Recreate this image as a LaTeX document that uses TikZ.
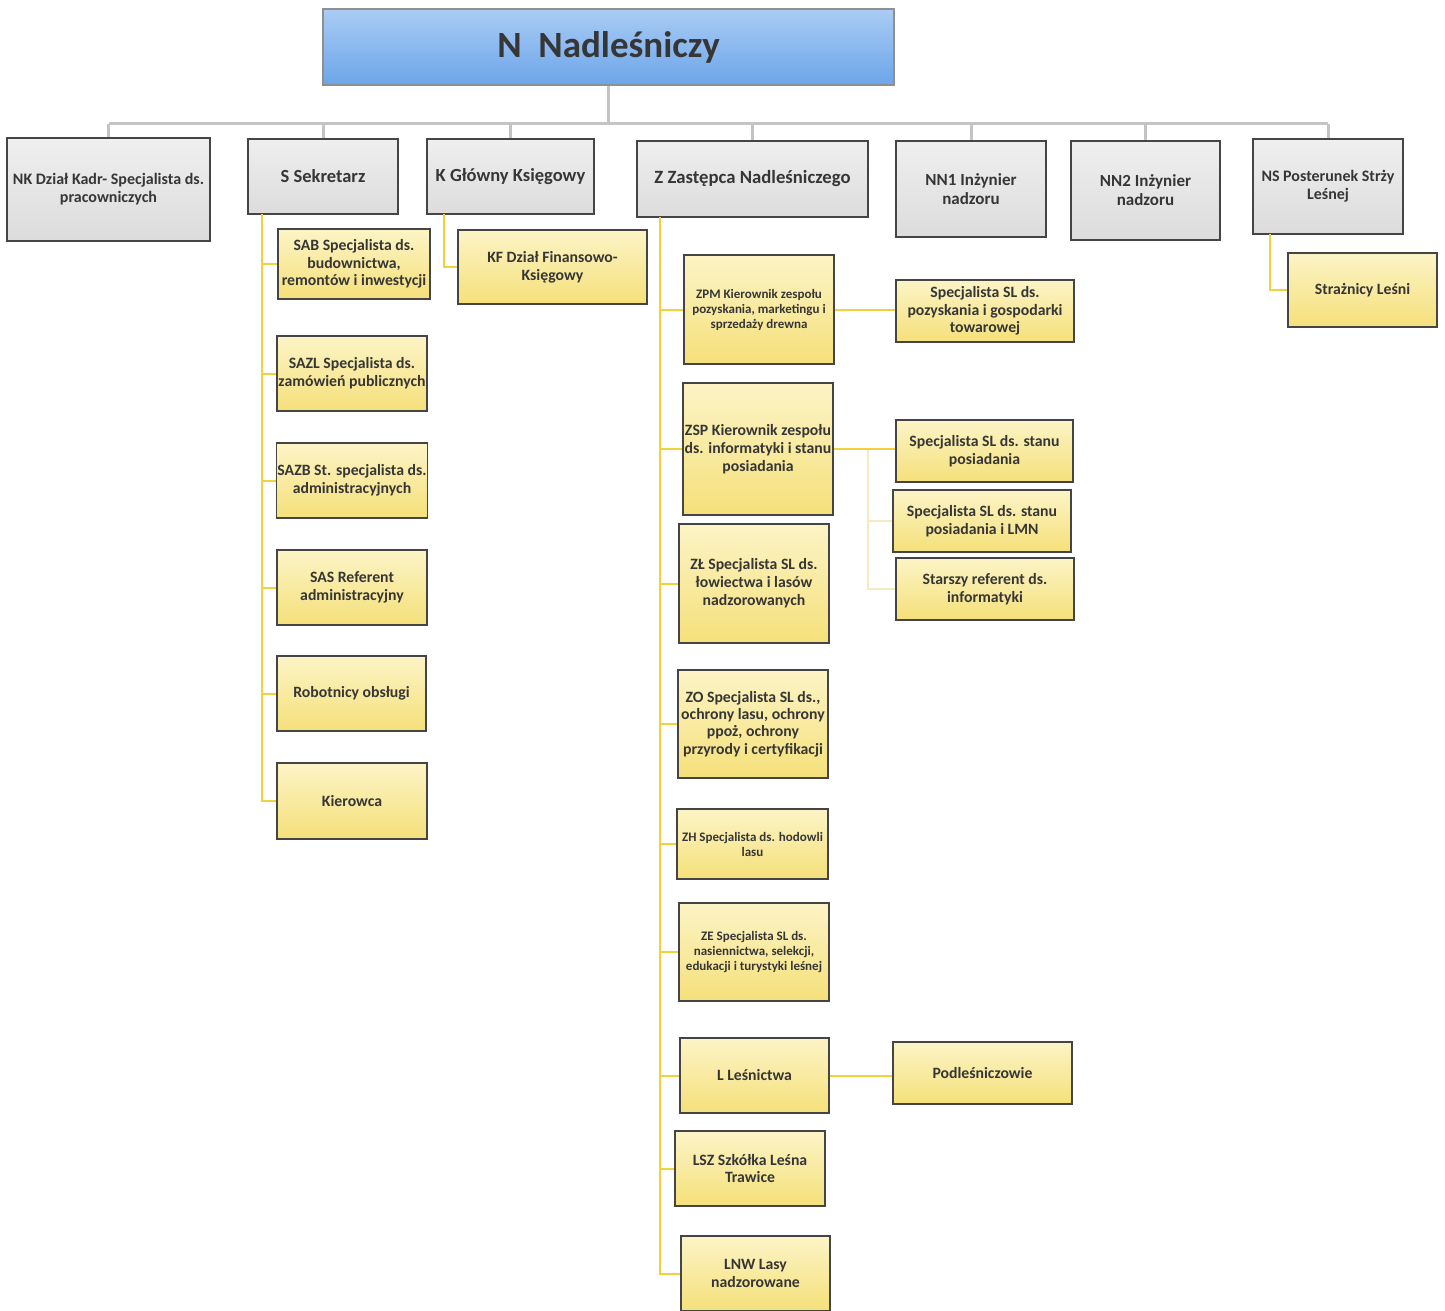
\documentclass[tikz,border=0pt]{standalone}
\usepackage{fontspec}
\setmainfont{Carlito}
\definecolor{boxline}{HTML}{454545}
\definecolor{txt}{HTML}{363636}
\definecolor{gtop}{HTML}{EFEFEF}
\definecolor{gbot}{HTML}{DCDCDC}
\definecolor{ytop}{HTML}{FCF4C6}
\definecolor{ybot}{HTML}{F5E07A}
\definecolor{btop}{HTML}{AACCF4}
\definecolor{bbot}{HTML}{6CA5EA}
\definecolor{busc}{HTML}{C4C4C4}
\definecolor{ylc}{HTML}{F2D23C}
\definecolor{ylpale}{HTML}{F4ECC0}
\newcommand\orgbox[7]{\node[#2, minimum width={#5pt-#3pt}, minimum height={#6pt-#4pt}] (#1) at ({(#3+#5)/2},{(#4+#6)/2}) {#7};}
\tikzset{
  fs/.style 2 args={font=\bfseries\fontsize{#1}{#2}\selectfont},
  base/.style={draw=boxline, line width=1.3pt, inner sep=1pt, align=center, text=txt, fs={15.75}{17.8}},
  gbox/.style={base, top color=gtop, bottom color=gbot},
  ybox/.style={base, top color=ytop, bottom color=ybot},
  bbox/.style={base, draw=boxline!60, top color=btop, bottom color=bbot},
  bus/.style={draw=busc, line width=3pt},
  yl/.style={draw=ylc, line width=2pt},
  ylp/.style={draw=ylpale, line width=1.5pt},
}
\begin{document}
\begin{tikzpicture}[x=1pt,y=-1pt]
\useasboundingbox (0,0) rectangle (1445,1311);
% top
\orgbox{n}{bbox, fs={37}{42}}{323}{9}{894}{85}{N\ \ Nadleśniczy}
% level 2
\orgbox{nk}{gbox, fs={16}{18}}{7}{138}{210}{241}{NK Dział Kadr- Specjalista ds.\\pracowniczych}
\orgbox{s}{gbox, fs={18.5}{21}}{248}{139}{398}{214}{S Sekretarz}
\orgbox{k}{gbox, fs={18.5}{21}}{427}{139}{594}{214}{K Główny Księgowy}
\orgbox{z}{gbox, fs={18.7}{21}}{637}{141}{868}{217}{Z Zastępca Nadleśniczego}
\orgbox{nn1}{gbox, fs={17}{19}}{896}{141}{1046}{237}{NN1 Inżynier\\nadzoru}
\orgbox{nn2}{gbox, fs={17}{19}}{1071}{141}{1220}{240}{NN2 Inżynier\\nadzoru}
\orgbox{ns}{gbox, fs={16}{18}}{1253}{139}{1403}{234}{NS Posterunek Strży\\Leśnej}
% S children
\orgbox{sab}{ybox}{278}{229}{430}{299}{SAB Specjalista ds.\\budownictwa,\\remontów i inwestycji}
\orgbox{sazl}{ybox}{277}{336}{427}{411}{SAZL Specjalista ds.\\zamówień publicznych}
\orgbox{sazb}{ybox}{277}{443}{427}{518}{SAZB St. specjalista ds.\\administracyjnych}
\orgbox{sas}{ybox}{277}{550}{427}{625}{SAS Referent\\administracyjny}
\orgbox{rob}{ybox}{277}{656}{426}{731}{Robotnicy obsługi}
\orgbox{kie}{ybox}{277}{763}{427}{839}{Kierowca}
% K child
\orgbox{kf}{ybox}{458}{230}{647}{304}{KF Dział Finansowo-\\Księgowy}
% Z children
\orgbox{zpm}{ybox, fs={13}{15}}{684}{255}{834}{364}{ZPM Kierownik zespołu\\pozyskania, marketingu i\\sprzedaży drewna}
\orgbox{zpm1}{ybox}{896}{280}{1074}{342}{Specjalista SL ds.\\pozyskania i gospodarki\\towarowej}
\orgbox{zsp}{ybox}{683}{383}{833}{515}{ZSP Kierownik zespołu\\ds. informatyki i stanu\\posiadania}
\orgbox{zsp1}{ybox}{896}{420}{1073}{482}{Specjalista SL ds. stanu\\posiadania}
\orgbox{zsp2}{ybox}{893}{490}{1071}{552}{Specjalista SL ds. stanu\\posiadania i LMN}
\orgbox{zsp3}{ybox}{896}{558}{1074}{620}{Starszy referent ds.\\informatyki}
\orgbox{zl}{ybox}{679}{524}{829}{643}{ZŁ Specjalista SL ds.\\łowiectwa i lasów\\nadzorowanych}
\orgbox{zo}{ybox, fs={15.75}{17.4}}{678}{670}{828}{778}{ZO Specjalista SL ds.,\\ochrony lasu, ochrony\\ppoż, ochrony\\przyrody i certyfikacji}
\orgbox{zh}{ybox, fs={13}{15}}{677}{809}{828}{879}{ZH Specjalista ds. hodowli\\lasu}
\orgbox{ze}{ybox, fs={13}{15}}{679}{903}{829}{1001}{ZE Specjalista SL ds.\\nasiennictwa, selekcji,\\edukacji i turystyki leśnej}
\orgbox{l}{ybox}{680}{1038}{829}{1113}{L Leśnictwa}
\orgbox{pod}{ybox}{893}{1042}{1072}{1104}{Podleśniczowie}
\orgbox{lsz}{ybox}{675}{1131}{825}{1206}{LSZ Szkółka Leśna\\Trawice}
\orgbox{lnw}{ybox}{681}{1236}{830}{1311}{LNW Lasy\\nadzorowane}
% NS child
\orgbox{str}{ybox}{1288}{253}{1437}{327}{Strażnicy Leśni}
% bus
\coordinate (busy) at (0,124);
\draw[bus] (n.south) -- (n.south |- busy);
\draw[bus] (nk.north |- busy) -- (ns.north |- busy);
\foreach \b in {nk,s,k,z,nn1,nn2,ns} { \draw[bus] (\b.north |- busy) -- (\b.north); }
% S spine
\coordinate (sx) at (262,214);
\draw[yl] (sx) |- (kie.west);
\foreach \b in {sab,sazl,sazb,sas,rob} { \draw[yl] (sx |- \b.west) -- (\b.west); }
% K
\coordinate (kx) at (444,214);
\draw[yl] (kx) |- (kf.west);
% NS
\coordinate (nsx) at (1270,234);
\draw[yl] (nsx) |- (str.west);
% Z spine
\coordinate (zx) at (660,217);
\draw[yl] (zx) |- (lnw.west);
\foreach \b in {zpm,zsp,zl,zo,zh,ze,l,lsz} { \draw[yl] (zx |- \b.west) -- (\b.west); }
% right side
\draw[yl] (zpm.east) -- (zpm.east -| zpm1.west);
\draw[yl] (zsp.east) -- (zsp.east -| zsp1.west);
\coordinate (zspx) at (868,450);
\draw[ylp] (zspx) |- (zsp3.west);
\draw[ylp] (zspx |- zsp2.west) -- (zsp2.west);
\draw[yl] (l.east) -- (l.east -| pod.west);
\end{tikzpicture}
\end{document}
